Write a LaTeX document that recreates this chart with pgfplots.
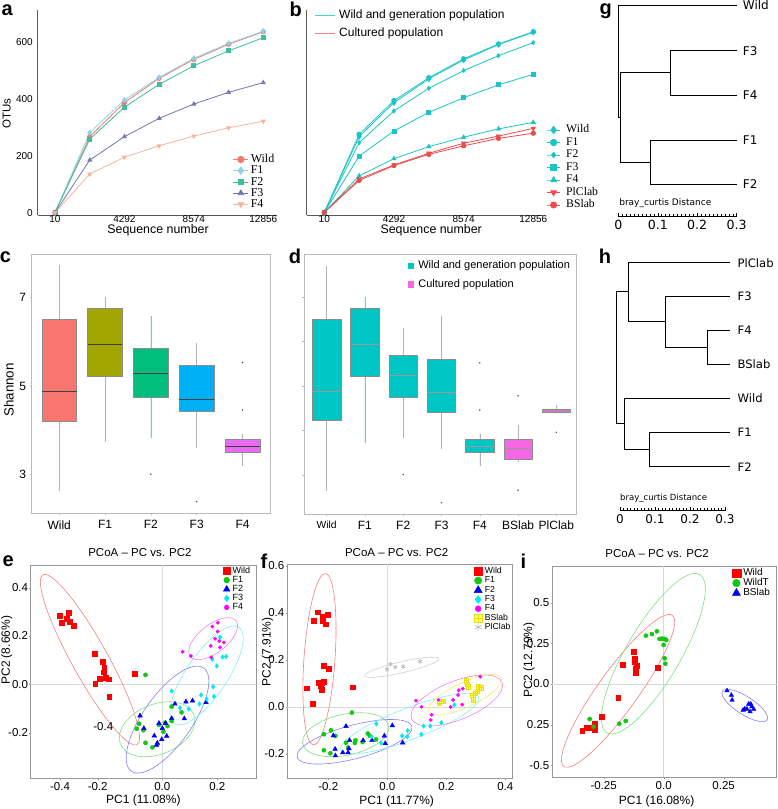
\documentclass[border=0pt]{standalone}
\usepackage{fontspec}
\setmainfont{Liberation Sans}
\newfontfamily\tnr{Liberation Serif}
\newfontfamily\dvs{DejaVu Sans}
\usepackage{pgfplots}
\pgfplotsset{compat=1.18}
\usepgfplotslibrary{statistics}
\usetikzlibrary{plotmarks}
\newcommand{\fs}[1]{\fontsize{#1}{#1}\selectfont}
\definecolor{aWild}{HTML}{EE7B6C}
\definecolor{aF1}{HTML}{8DD3EA}
\definecolor{aF2}{HTML}{3DBE9E}
\definecolor{aF3}{HTML}{7178B2}
\definecolor{aF4}{HTML}{F6B59C}
\definecolor{bTeal}{HTML}{1CC5C5}
\definecolor{bRed}{HTML}{EF4B4B}
\definecolor{cWild}{HTML}{F8766D}
\definecolor{cF1}{HTML}{A3A500}
\definecolor{cF2}{HTML}{00BF7D}
\definecolor{cF3}{HTML}{00B0F6}
\definecolor{cF4}{HTML}{E76BF3}
\definecolor{dTeal}{HTML}{00C5C5}
\definecolor{dPink}{HTML}{F567E3}
\definecolor{pRed}{HTML}{FF0000}
\definecolor{pGreen}{HTML}{10C810}
\definecolor{pBlue}{HTML}{0000FF}
\definecolor{pCyan}{HTML}{00E8F0}
\definecolor{pMag}{HTML}{FF00FF}
\definecolor{pYel}{HTML}{FFFF88}
\definecolor{pYelD}{HTML}{E8E000}
\definecolor{pGrey}{HTML}{B8B8B8}
\definecolor{eRed}{HTML}{F28080}
\definecolor{eGreen}{HTML}{80E080}
\definecolor{eBlue}{HTML}{8080FF}
\definecolor{eCyan}{HTML}{80F0F8}
\definecolor{eMag}{HTML}{F080F0}
\definecolor{eYel}{HTML}{F0F060}
\definecolor{eGrey}{HTML}{D0D0D0}
\pgfdeclareplotmark{sqplus}{%
  \pgfpathrectangle{\pgfqpoint{-\pgfplotmarksize}{-\pgfplotmarksize}}{\pgfqpoint{2\pgfplotmarksize}{2\pgfplotmarksize}}%
  \pgfusepathqfillstroke
  \pgfpathmoveto{\pgfqpoint{-\pgfplotmarksize}{0pt}}\pgfpathlineto{\pgfqpoint{\pgfplotmarksize}{0pt}}%
  \pgfpathmoveto{\pgfqpoint{0pt}{-\pgfplotmarksize}}\pgfpathlineto{\pgfqpoint{0pt}{\pgfplotmarksize}}%
  \pgfusepathqstroke}
\pgfplotsset{
  pm/.style={only marks, legend image code/.code={\draw[##1] plot coordinates {(0pt,0pt)};}},
  scat/.style={scale only axis, anchor=south west,
    axis line style={black!40, line width=0.8pt},
    tick pos=left, tick align=outside, major tick length=1.5pt, tick style={black!40},
    tick label style={font=\fs{11.5}},
    yticklabel style={inner sep=1pt}, xticklabel style={inner sep=2pt},
    extra x ticks={0}, extra x tick labels={}, extra y ticks={0}, extra y tick labels={},
    extra x tick style={grid=major, major grid style={black!15, line width=0.8pt}, major tick length=0pt},
    extra y tick style={grid=major, major grid style={black!15, line width=0.8pt}, major tick length=0pt},
    title style={font=\fs{11.5}, anchor=south, inner sep=2pt},
    xlabel style={font=\fs{12}, anchor=center},
    ylabel style={font=\fs{12}, anchor=center},
    legend cell align=left,
    legend image post style={/tikz/every mark/.append style={scale=1.4}},
  },
  dendro/.style={scale only axis, anchor=south west, clip=false,
    hide y axis, axis x line*=bottom, axis line style={black, line width=0.6pt},
    xmin=0, xmax=0.3,
    xtick={0,0.1,0.2,0.3}, xticklabels={0,0.1,0.2,0.3},
    minor xtick={0,0.01,...,0.3}, tick align=inside, major tick length=4pt, minor tick length=2.2pt,
    tick style={black, line width=0.5pt},
    extra x ticks={0.05,0.15,0.25}, extra x tick labels={}, extra x tick style={major tick length=3pt},
  },
  tree/.style={black, line width=0.8pt, mark=none},
  boxax/.style={scale only axis, anchor=south west,
    axis line style={black!27, line width=0.8pt},
    tick pos=left, tick align=outside, major tick length=2pt, tick style={black!27, line width=0.5pt},
    tick label style={font=\fs{12}}, xticklabel style={yshift=-1.5pt},
    boxplot/draw direction=y,
    boxplot/whisker extend=0,
    boxplot/every whisker/.style={draw=black!30, line width=0.6pt},
    boxplot/every box/.style={draw=black!45, line width=0.5pt},
  },
  seqax/.style={scale only axis, anchor=south west,
    axis lines*=left, axis line style={black!65, line width=0.6pt}, clip=false,
    ymin=-6, ymax=711, scaled ticks=false,
    xtick={10,4292,8574,12856}, xticklabels={10,4292,8574,12856},
    major tick length=0pt, tick label style={font=\fs{10}},
    xticklabel style={inner sep=0.5pt, anchor=north},
  },
}
\begin{document}
\begin{tikzpicture}
% ---------------- a ----------------
\begin{axis}[seqax, at={(37.7pt,594pt)}, width=239.3pt, height=205pt,
  xmin=-1057, xmax=13701,
  ytick={0,200,400,600}, yticklabels={0,200,400,600},
  yticklabel style={xshift=-1.4pt},
  xlabel={Sequence number}, xlabel style={font=\fs{12.4}, at={(axis description cs:0.503,-0.077)}, anchor=center},
  ylabel={OTUs}, ylabel style={font=\fs{11.5}, at={(axis description cs:-0.1295,0.496)}, anchor=center},
  legend style={at={(0.816,0.2963)}, anchor=north west, draw=none, fill=none, font=\tnr\fs{12},
    inner sep=0pt, outer sep=0pt, row sep=0.7pt, column sep=2pt,
    nodes={inner sep=0pt, text height=8.5pt, text depth=2pt}},
  legend cell align=left,
  legend image code/.code={\draw[mark repeat=2,mark phase=2,#1] plot coordinates {(0pt,0pt) (7.5pt,0pt) (15pt,0pt)};},
  legend image post style={/tikz/every mark/.append style={scale=1.45}},
]
\addplot[color=aWild, line width=0.8pt, mark=*, mark size=2.2pt] coordinates {(10,3)(2151,268)(4292,387)(6433,472)(8574,538)(10715,591)(12856,635)};
\addlegendentry{Wild}
\addplot[color=aF1, line width=0.8pt, mark=diamond*, mark size=2.5pt] coordinates {(10,3)(2151,282)(4292,396)(6433,475)(8574,542)(10715,594)(12856,637)};
\addlegendentry{F1}
\addplot[color=aF2, line width=0.8pt, mark=square*, mark size=2pt] coordinates {(10,3)(2151,259)(4292,371)(6433,451)(8574,516)(10715,568)(12856,614)};
\addlegendentry{F2}
\addplot[color=aF3, line width=0.8pt, mark=triangle*, mark size=2.2pt] coordinates {(10,2)(2151,186)(4292,268)(6433,332)(8574,382)(10715,423)(12856,457)};
\addlegendentry{F3}
\addplot[color=aF4, line width=0.8pt, mark=triangle*, mark options={rotate=180}, mark size=2.2pt] coordinates {(10,2)(2151,137)(4292,196)(6433,236)(8574,270)(10715,299)(12856,322)};
\addlegendentry{F4}
\end{axis}
% ---------------- b ----------------
\begin{axis}[seqax, at={(306.7pt,594pt)}, width=236.3pt, height=205pt,
  xmin=-1072, xmax=13452, ytick=\empty,
  xlabel={Sequence number}, xlabel style={font=\fs{12.4}, at={(axis description cs:0.527,-0.077)}, anchor=center},
  legend style={at={(1.0157,0.4402)}, anchor=north west, draw=none, fill=none, font=\tnr\fs{11.7},
    inner sep=0pt, outer sep=0pt, row sep=2pt, column sep=5.7pt,
    nodes={inner sep=0pt, text height=8pt, text depth=2.5pt}},
  legend cell align=left,
  legend image code/.code={\draw[mark repeat=2,mark phase=2,#1] plot coordinates {(0pt,0pt) (6.5pt,0pt) (13pt,0pt)};},
  legend image post style={/tikz/every mark/.append style={scale=1.4}},
]
\addplot[color=bTeal, line width=0.8pt, mark=diamond*, mark size=2.6pt] coordinates {(10,3)(2151,268)(4292,387)(6433,470)(8574,536)(10715,590)(12856,633)};
\addlegendentry{Wild}
\addplot[color=bTeal, line width=0.8pt, mark=*, mark size=2.3pt] coordinates {(10,3)(2151,276)(4292,394)(6433,474)(8574,540)(10715,592)(12856,635)};
\addlegendentry{F1}
\addplot[color=bTeal, line width=0.8pt, mark=diamond*, mark size=2pt] coordinates {(10,3)(2151,247)(4292,358)(6433,437)(8574,499)(10715,551)(12856,597)};
\addlegendentry{F2}
\addplot[color=bTeal, line width=0.8pt, mark=square*, mark size=2pt] coordinates {(10,3)(2151,200)(4292,288)(6433,353)(8574,404)(10715,449)(12856,486)};
\addlegendentry{F3}
\addplot[color=bTeal, line width=0.8pt, mark=triangle*, mark size=2.3pt] coordinates {(10,3)(2151,131)(4292,191)(6433,233)(8574,266)(10715,295)(12856,318)};
\addlegendentry{F4}
\addplot[color=bRed, line width=0.8pt, mark=triangle*, mark options={rotate=180}, mark size=2.3pt] coordinates {(10,3)(2151,120)(4292,169)(6433,210)(8574,245)(10715,270)(12856,297)};
\addlegendentry{PlClab}
\addplot[color=bRed, line width=0.8pt, mark=*, mark size=2.2pt] coordinates {(10,3)(2151,115)(4292,167)(6433,206)(8574,236)(10715,262)(12856,280)};
\addlegendentry{BSlab}
\end{axis}
\begin{axis}[at={(306.7pt,594pt)}, anchor=south west, width=236.3pt, height=205pt, scale only axis,
  hide axis, xmin=0, xmax=1, ymin=0, ymax=1,
  legend style={at={(0.035,1.0027)}, anchor=north west, draw=none, fill=none, font=\fs{12},
    inner sep=0pt, outer sep=0pt, row sep=7.2pt, column sep=3.3pt,
    nodes={inner sep=0pt, text height=8.6pt, text depth=2.5pt}},
  legend cell align=left,
  legend image code/.code={\draw[#1] (0pt,0pt) -- (20pt,0pt);},
]
\addlegendimage{color=bTeal!80, line width=0.9pt}
\addlegendentry{Wild and generation population}
\addlegendimage{color=bRed!70, line width=0.9pt}
\addlegendentry{Cultured population}
\end{axis}
% ---------------- g ----------------
\begin{axis}[dendro, at={(618.3pt,592.3pt)}, width=118.4pt, height=211.7pt, ymin=-216.7, ymax=-5,
  tick label style={font=\dvs\fs{12.6}}]
\addplot[tree] coordinates {(0.3,-5)(0,-5)(0,-117.3)(0.006,-117.3)};
\addplot[tree] coordinates {(0.133,-72.7)(0.006,-72.7)(0.006,-162.7)(0.082,-162.7)};
\addplot[tree] coordinates {(0.3,-50.7)(0.133,-50.7)(0.133,-95)(0.3,-95)};
\addplot[tree] coordinates {(0.3,-140)(0.082,-140)(0.082,-184.3)(0.3,-184.3)};
\node[anchor=west, inner sep=0pt, font=\dvs\fs{12}, xshift=6pt] at (axis cs:0.3,-5) {Wild};
\node[anchor=west, inner sep=0pt, font=\dvs\fs{12}, xshift=6pt] at (axis cs:0.3,-50.7) {F3};
\node[anchor=west, inner sep=0pt, font=\dvs\fs{12}, xshift=6pt] at (axis cs:0.3,-95) {F4};
\node[anchor=west, inner sep=0pt, font=\dvs\fs{12}, xshift=6pt] at (axis cs:0.3,-140) {F1};
\node[anchor=west, inner sep=0pt, font=\dvs\fs{12}, xshift=6pt] at (axis cs:0.3,-184.3) {F2};
\node[anchor=west, inner sep=0pt, font=\dvs\fs{9}] at (axis cs:0.002,-203.3) {bray\_curtis Distance};
\end{axis}
% ---------------- h ----------------
\begin{axis}[dendro, at={(620pt,298.3pt)}, width=105pt, height=248pt, ymin=-510.7, ymax=-262.7,
  tick label style={font=\dvs\fs{12}}]
\addplot[tree] coordinates {(0.0237,-291.7)(-0.0094,-291.7)(-0.0094,-423.3)(0.0114,-423.3)};
\addplot[tree] coordinates {(0.314,-262.7)(0.0237,-262.7)(0.0237,-321)(0.131,-321)};
\addplot[tree] coordinates {(0.314,-296.7)(0.131,-296.7)(0.131,-347.3)(0.251,-347.3)};
\addplot[tree] coordinates {(0.314,-330.7)(0.251,-330.7)(0.251,-364.3)(0.314,-364.3)};
\addplot[tree] coordinates {(0.314,-398.3)(0.0114,-398.3)(0.0114,-449.3)(0.0837,-449.3)};
\addplot[tree] coordinates {(0.314,-432.7)(0.0837,-432.7)(0.0837,-466.7)(0.314,-466.7)};
\node[anchor=west, inner sep=0pt, font=\dvs\fs{11.6}, xshift=7.5pt] at (axis cs:0.314,-262.7) {PlClab};
\node[anchor=west, inner sep=0pt, font=\dvs\fs{11.6}, xshift=7.5pt] at (axis cs:0.314,-296.7) {F3};
\node[anchor=west, inner sep=0pt, font=\dvs\fs{11.6}, xshift=7.5pt] at (axis cs:0.314,-330.7) {F4};
\node[anchor=west, inner sep=0pt, font=\dvs\fs{11.6}, xshift=7.5pt] at (axis cs:0.314,-364.3) {BSlab};
\node[anchor=west, inner sep=0pt, font=\dvs\fs{11.6}, xshift=7.5pt] at (axis cs:0.314,-398.3) {Wild};
\node[anchor=west, inner sep=0pt, font=\dvs\fs{11.6}, xshift=7.5pt] at (axis cs:0.314,-432.7) {F1};
\node[anchor=west, inner sep=0pt, font=\dvs\fs{11.6}, xshift=7.5pt] at (axis cs:0.314,-466.7) {F2};
\node[anchor=west, inner sep=0pt, font=\dvs\fs{8.5}] at (axis cs:0.0,-498.3) {bray\_curtis Distance};
\end{axis}
% ---------------- c ----------------
\begin{axis}[boxax, at={(31.7pt,295.7pt)}, width=238.3pt, height=259.3pt,
  xmin=0.4, xmax=5.6, ymin=2.126, ymax=7.98,
  xtick={1,2,3,4,5}, xticklabels={Wild,F1,F2,F3,F4},
  ytick={3,5,7}, yticklabels={3,5,7},
  ylabel={Shannon}, ylabel style={font=\fs{13.3}, at={(axis description cs:-0.0953,0.4755)}, anchor=center},
  boxplot/box extend=0.76,
  boxplot/every median/.style={draw=black!75, line width=0.8pt},
]
\addplot[boxplot prepared={lower whisker=2.64, lower quartile=4.21, median=4.88, upper quartile=6.51, upper whisker=7.73, draw position=1}, fill=cWild, draw=black!45, mark=*, mark size=0.5pt, mark options={black!70}] coordinates {};
\addplot[boxplot prepared={lower whisker=3.73, lower quartile=5.23, median=5.94, upper quartile=6.75, upper whisker=7.02, draw position=2}, fill=cF1, draw=black!45, mark=*, mark size=0.5pt, mark options={black!70}] coordinates {};
\addplot[boxplot prepared={lower whisker=3.83, lower quartile=4.75, median=5.29, upper quartile=5.86, upper whisker=6.58, draw position=3}, fill=cF2, draw=black!45, mark=*, mark size=0.5pt, mark options={black!70}] table[row sep=\\, y index=0] {y\\ 3.01\\};
\addplot[boxplot prepared={lower whisker=3.59, lower quartile=4.42, median=4.70, upper quartile=5.47, upper whisker=5.98, draw position=4}, fill=cF3, draw=black!45, mark=*, mark size=0.5pt, mark options={black!70}] table[row sep=\\, y index=0] {y\\ 2.39\\};
\addplot[boxplot prepared={lower whisker=3.20, lower quartile=3.50, median=3.64, upper quartile=3.80, upper whisker=3.92, draw position=5}, fill=cF4, draw=black!45, mark=*, mark size=0.5pt, mark options={black!70}] table[row sep=\\, y index=0] {y\\ 5.53\\ 4.46\\};
\end{axis}
% ---------------- d ----------------
\begin{axis}[boxax, at={(304pt,295pt)}, width=272.7pt, height=260pt,
  xmin=0.41, xmax=7.53, ymin=2.124, ymax=7.966,
  xtick={1,2,3,4,5,6,7}, xticklabels={{\fs{10.3}Wild},F1,F2,F3,F4,BSlab,PlClab},
  ytick={3,4,5,6,7}, yticklabels={},
  boxplot/box extend=0.74,
  boxplot/every median/.style={draw=black!40, line width=0.7pt},
  legend style={at={(0.380,0.9737)}, anchor=north west, draw=none, fill=none, font=\fs{11},
    inner sep=0pt, outer sep=0pt, row sep=8pt, column sep=4pt,
    nodes={inner sep=0pt, text height=8pt, text depth=2.3pt}},
  legend cell align=left,
  legend image code/.code={\fill[#1] (0pt,-3.35pt) rectangle (6.7pt,3.35pt);},
]
\addlegendimage{fill=dTeal, draw=none}
\addlegendentry{Wild and generation population}
\addlegendimage{fill=dPink, draw=none}
\addlegendentry{Cultured population}
\addplot[forget plot, boxplot prepared={lower whisker=2.65, lower quartile=4.22, median=4.88, upper quartile=6.51, upper whisker=7.70, draw position=1}, fill=dTeal, draw=black!45, mark=*, mark size=0.5pt, mark options={black!70}] coordinates {};
\addplot[forget plot, boxplot prepared={lower whisker=3.73, lower quartile=5.23, median=5.94, upper quartile=6.75, upper whisker=7.01, draw position=2}, fill=dTeal, draw=black!45, mark=*, mark size=0.5pt, mark options={black!70}] coordinates {};
\addplot[forget plot, boxplot prepared={lower whisker=3.84, lower quartile=4.75, median=5.24, upper quartile=5.68, upper whisker=6.30, draw position=3}, fill=dTeal, draw=black!45, mark=*, mark size=0.5pt, mark options={black!70}] table[row sep=\\, y index=0] {y\\ 3.01\\};
\addplot[forget plot, boxplot prepared={lower whisker=3.58, lower quartile=4.42, median=4.85, upper quartile=5.61, upper whisker=6.57, draw position=4}, fill=dTeal, draw=black!45, mark=*, mark size=0.5pt, mark options={black!70}] table[row sep=\\, y index=0] {y\\ 2.38\\};
\addplot[forget plot, boxplot prepared={lower whisker=3.21, lower quartile=3.51, median=3.64, upper quartile=3.80, upper whisker=3.92, draw position=5}, fill=dTeal, draw=black!45, mark=*, mark size=0.5pt, mark options={black!70}] table[row sep=\\, y index=0] {y\\ 5.52\\ 4.46\\};
\addplot[forget plot, boxplot prepared={lower whisker=3.29, lower quartile=3.35, median=3.60, upper quartile=3.80, upper whisker=4.12, draw position=6}, fill=dPink, draw=black!45, mark=*, mark size=0.5pt, mark options={black!70}] table[row sep=\\, y index=0] {y\\ 4.78\\ 2.66\\};
\addplot[forget plot, boxplot prepared={lower whisker=4.41, lower quartile=4.41, median=4.45, upper quartile=4.48, upper whisker=4.57, draw position=7}, fill=dPink, draw=black!45, mark=*, mark size=0.5pt, mark options={black!70}] table[row sep=\\, y index=0] {y\\ 3.96\\};
\end{axis}
% ---------------- e ----------------
\begin{axis}[scat, at={(30.7pt,30.7pt)}, width=225.3pt, height=213.3pt,
  xmin=-0.4785, xmax=0.3407, ymin=-0.389, ymax=0.494,
  xtick={-0.372,-0.235,0,0.2}, xticklabels={-0.4,-0.2,0.0,0.2},
  ytick={-0.2,0,0.2,0.4}, yticklabels={-0.2,0.0,0.2,0.4},
  title={PCoA – PC vs. PC2}, title style={at={(axis description cs:0.485,1)}},
  xlabel={PC1 (11.08\%)}, xlabel style={at={(axis description cs:0.5,-0.1017)}},
  ylabel={PC2 (8.66\%)}, ylabel style={at={(axis description cs:-0.1065,0.60)}},
  legend style={at={(0.855,0.9918)}, anchor=north west, draw=none, fill=none, font=\fs{9},
    inner sep=0pt, outer sep=0pt, row sep=0.6pt, column sep=2.5pt,
    nodes={inner sep=0pt, text height=6.5pt, text depth=2pt}},
]
\draw[eRed, line width=0.6pt] (axis cs:-0.263,0.102) circle[x radius=97pt, y radius=18pt, rotate=-61];
\draw[eGreen, line width=0.6pt] (axis cs:-0.019,-0.186) circle[x radius=39.5pt, y radius=25pt, rotate=22];
\draw[eBlue, line width=0.6pt] (axis cs:0.019,-0.146) circle[x radius=63pt, y radius=24.5pt, rotate=55];
\draw[eCyan, line width=0.6pt] (axis cs:0.161,0.037) circle[x radius=58pt, y radius=20.5pt, rotate=56];
\draw[eMag, line width=0.6pt] (axis cs:0.185,0.189) circle[x radius=29pt, y radius=14pt, rotate=38];
\addplot[pm, mark=square*, mark size=2.4pt, color=pRed] coordinates {(-0.372,0.283)(-0.339,0.297)(-0.365,0.255)(-0.347,0.272)(-0.336,0.258)(-0.321,0.243)(-0.246,0.126)(-0.217,0.094)(-0.212,0.050)(-0.211,0.070)(-0.227,0.023)(-0.244,0.004)(-0.207,0.029)(-0.195,0.021)(-0.193,-0.051)(-0.100,0.045)};
\addlegendentry{Wild}
\addplot[pm, mark=*, mark size=2.1pt, color=pGreen] coordinates {(-0.061,0.039)(-0.084,-0.163)(-0.093,-0.184)(-0.069,-0.190)(-0.061,-0.242)(-0.036,-0.261)(-0.012,-0.168)(0.010,-0.159)(0.019,-0.173)(0.004,-0.196)(0.034,-0.152)(0.034,-0.092)(0.070,-0.116)};
\addlegendentry{F1}
\addplot[pm, mark=triangle*, mark size=2.7pt, color=pBlue] coordinates {(-0.081,-0.130)(-0.067,-0.182)(-0.029,-0.213)(-0.012,-0.161)(0.000,-0.182)(0.012,-0.161)(0.016,-0.214)(-0.002,-0.228)(-0.018,-0.243)(-0.021,-0.251)(0.034,-0.141)(0.046,-0.081)(0.086,-0.072)(0.110,-0.068)(0.080,-0.142)(0.159,-0.075)};
\addlegendentry{F2}
\addplot[pm, mark=diamond*, mark size=2.3pt, color=pCyan] coordinates {(0.034,-0.028)(0.064,-0.097)(0.096,-0.102)(0.135,-0.081)(0.141,-0.044)(0.161,-0.061)(0.188,-0.050)(0.185,-0.010)(0.182,0.104)(0.198,0.076)(0.210,0.195)(0.219,0.113)(0.232,0.115)};
\addlegendentry{F3}
\addplot[pm, mark=*, mark size=1.7pt, color=pMag] coordinates {(0.074,0.135)(0.104,0.117)(0.182,0.239)(0.202,0.255)(0.201,0.219)(0.192,0.189)(0.207,0.179)(0.224,0.173)(0.176,0.159)(0.210,0.153)(0.178,0.112)};
\addlegendentry{F4}
\node[font=\fs{11.5}] at (axis cs:-0.2145,-0.1756) {-0.4};
\end{axis}
% ---------------- f ----------------
\begin{axis}[scat, at={(287pt,30.7pt)}, width=225pt, height=213.8pt,
  xmin=-0.340, xmax=0.4227, ymin=-0.3034, ymax=0.6064,
  xtick={-0.2,0,0.2,0.4}, xticklabels={-0.2,0.0,0.2,0.4},
  ytick={-0.2,0,0.2,0.4,0.6}, yticklabels={-0.2,0.0,0.2,0.4,0.6},
  title={PCoA – PC vs. PC2}, title style={at={(axis description cs:0.4876,1)}},
  xlabel={PC1 (11.77\%)}, xlabel style={at={(axis description cs:0.4876,-0.109)}},
  ylabel={PC2 (7.91\%)}, ylabel style={at={(axis description cs:-0.0867,0.592)}},
  legend style={at={(0.831,0.9878)}, anchor=north west, draw=none, fill=none, font=\fs{8.7},
    inner sep=0pt, outer sep=0pt, row sep=0.9pt, column sep=2.5pt,
    nodes={inner sep=0pt, text height=6.3pt, text depth=2pt}},
  legend image post style={/tikz/every mark/.append style={scale=1.25}},
]
\draw[eRed, line width=0.6pt] (axis cs:-0.230,0.2035) circle[x radius=85.8pt, y radius=15.5pt, rotate=86];
\draw[eGreen, line width=0.6pt] (axis cs:-0.141,-0.118) circle[x radius=43.9pt, y radius=20.5pt, rotate=12];
\draw[eBlue, line width=0.6pt] (axis cs:-0.111,-0.148) circle[x radius=59.4pt, y radius=16.7pt, rotate=15];
\draw[eCyan, line width=0.6pt] (axis cs:0.076,-0.071) circle[x radius=74pt, y radius=15.7pt, rotate=21];
\draw[eMag, line width=0.6pt] (axis cs:0.2356,0.0277) circle[x radius=48.8pt, y radius=19.2pt, rotate=22];
\draw[eYel, line width=0.6pt] (axis cs:0.264,0.052) circle[x radius=40.1pt, y radius=12.3pt, rotate=25];
\draw[eGrey, line width=0.6pt] (axis cs:0.0486,0.169) circle[x radius=38pt, y radius=5.5pt, rotate=13];
\addplot[pm, mark=square*, mark size=2.4pt, color=pRed] coordinates {(-0.237,0.403)(-0.203,0.394)(-0.250,0.367)(-0.219,0.383)(-0.218,0.365)(-0.208,0.352)(-0.215,0.177)(-0.198,0.162)(-0.233,0.104)(-0.221,0.105)(-0.216,0.109)(-0.227,0.089)(-0.223,0.075)(-0.273,0.080)(-0.254,0.015)(-0.118,0.084)};
\addlegendentry{Wild}
\addplot[pm, mark=*, mark size=2.1pt, color=pGreen] coordinates {(-0.120,-0.024)(-0.191,-0.099)(-0.215,-0.116)(-0.176,-0.123)(-0.140,-0.152)(-0.133,-0.173)(-0.108,-0.142)(-0.110,-0.153)(-0.084,-0.149)(-0.066,-0.113)(-0.059,-0.123)(-0.038,-0.138)(-0.215,-0.184)(-0.193,-0.197)};
\addlegendentry{F1}
\addplot[pm, mark=triangle*, mark size=2.7pt, color=pBlue] coordinates {(-0.140,-0.082)(-0.183,-0.122)(-0.177,-0.179)(-0.176,-0.207)(-0.151,-0.194)(-0.133,-0.194)(-0.128,-0.142)(-0.130,-0.177)(-0.082,-0.142)(-0.052,-0.142)(-0.010,-0.123)(-0.007,-0.155)(0.017,-0.079)(0.052,-0.152)};
\addlegendentry{F2}
\addplot[pm, mark=diamond*, mark size=2.3pt, color=pCyan] coordinates {(-0.037,-0.072)(-0.054,-0.126)(-0.021,-0.153)(0.050,-0.123)(0.069,-0.101)(0.068,-0.126)(0.115,-0.116)(0.123,-0.081)(0.146,-0.081)(0.183,-0.067)(0.227,0.009)};
\addlegendentry{F3}
\addplot[pm, mark=*, mark size=1.7pt, color=pMag] coordinates {(0.097,0.027)(0.116,0.001)(0.147,-0.055)(0.150,-0.033)(0.174,0.030)(0.215,0.000)(0.223,0.030)(0.240,0.051)(0.242,0.071)(0.254,0.010)(0.256,0.078)(0.315,0.129)};
\addlegendentry{F4}
\addplot[pm, mark=sqplus, mark size=2.2pt, mark options={fill=pYel, draw=pYelD, line width=0.5pt}] coordinates {(0.176,0.016)(0.189,0.024)(0.267,0.112)(0.271,0.098)(0.275,0.087)(0.290,0.051)(0.292,0.030)(0.298,0.058)(0.304,0.068)(0.308,0.087)(0.319,0.082)};
\addlegendentry{BSlab}
\addplot[pm, mark=asterisk, mark size=2.4pt, color=pGrey, mark options={line width=0.6pt}] coordinates {(-0.001,0.160)(0.011,0.182)(0.027,0.169)(0.054,0.172)(0.111,0.194)};
\addlegendentry{PlClab}
\end{axis}
% ---------------- i ----------------
\begin{axis}[scat, at={(552pt,31.7pt)}, width=224.5pt, height=211.3pt,
  xmin=-0.465, xmax=0.47, ymin=-0.573, ymax=0.725,
  xtick={-0.25,0,0.25}, xticklabels={-0.25,0.0,0.25},
  ytick={-0.5,-0.25,0,0.25,0.5}, yticklabels={-0.5,0.25,0.0,0.25,0.5},
  title={PCoA – PC vs. PC2}, title style={at={(axis description cs:0.468,1)}},
  xlabel={PC1 (16.08\%)}, xlabel style={at={(axis description cs:0.466,-0.115)}},
  ylabel={PC2 (12.79\%)}, ylabel style={at={(axis description cs:-0.1025,0.555)}},
  legend style={at={(0.802,0.989)}, anchor=north west, draw=none, fill=none, font=\fs{10},
    inner sep=0pt, outer sep=0pt, row sep=0.5pt, column sep=2.5pt,
    nodes={inner sep=0pt, text height=7.3pt, text depth=2.2pt}},
  legend image post style={/tikz/every mark/.append style={scale=1.3}},
]
\draw[eRed, line width=0.6pt] (axis cs:-0.190,-0.042) circle[x radius=93pt, y radius=20pt, rotate=54.3];
\draw[eGreen, line width=0.6pt] (axis cs:-0.043,0.186) circle[x radius=91.8pt, y radius=27pt, rotate=59.6];
\draw[eBlue, line width=0.6pt] (axis cs:0.338,-0.132) circle[x radius=26.5pt, y radius=9pt, rotate=-32.7];
\addplot[pm, mark=square*, mark size=2.4pt, color=pRed] coordinates {(-0.125,0.197)(-0.169,0.121)(-0.122,0.158)(-0.121,0.137)(-0.113,0.111)(-0.117,0.094)(-0.118,0.080)(-0.115,0.066)(-0.024,0.100)(-0.189,-0.082)(-0.258,-0.201)(-0.286,-0.246)(-0.286,-0.281)(-0.321,-0.266)(-0.339,-0.285)(-0.301,-0.268)};
\addlegendentry{Wild}
\addplot[pm, mark=*, mark size=2.1pt, color=pGreen] coordinates {(-0.074,0.297)(-0.049,0.307)(-0.028,0.324)(-0.017,0.277)(-0.007,0.279)(0.004,0.277)(0.011,0.270)(0.000,0.240)(0.004,0.158)(0.007,0.125)(-0.158,-0.227)(-0.185,-0.244)(-0.308,-0.215)(-0.292,-0.262)};
\addlegendentry{WildT}
\addplot[pm, mark=triangle*, mark size=2.6pt, color=pBlue] coordinates {(0.264,-0.041)(0.282,-0.068)(0.285,-0.098)(0.331,-0.160)(0.338,-0.152)(0.347,-0.154)(0.354,-0.123)(0.363,-0.123)(0.367,-0.139)(0.360,-0.170)(0.375,-0.154)};
\addlegendentry{BSlab}
\end{axis}
% ---------------- panel letters ----------------
\begin{scope}[every node/.style={font=\bfseries\fs{20}, inner sep=0pt}]
\node at (7.3pt,798.5pt) {a};
\node at (295.7pt,799.5pt) {b};
\node at (605.7pt,797.5pt) {g};
\node at (5.5pt,551.7pt) {c};
\node at (295pt,553pt) {d};
\node at (605pt,552.3pt) {h};
\node at (8.3pt,247.3pt) {e};
\node at (264pt,247.3pt) {f};
\node at (523.3pt,247.3pt) {i};
\end{scope}
\pgfresetboundingbox
\path[use as bounding box] (0pt,0pt) rectangle (777pt,809pt);
\end{tikzpicture}
\end{document}
